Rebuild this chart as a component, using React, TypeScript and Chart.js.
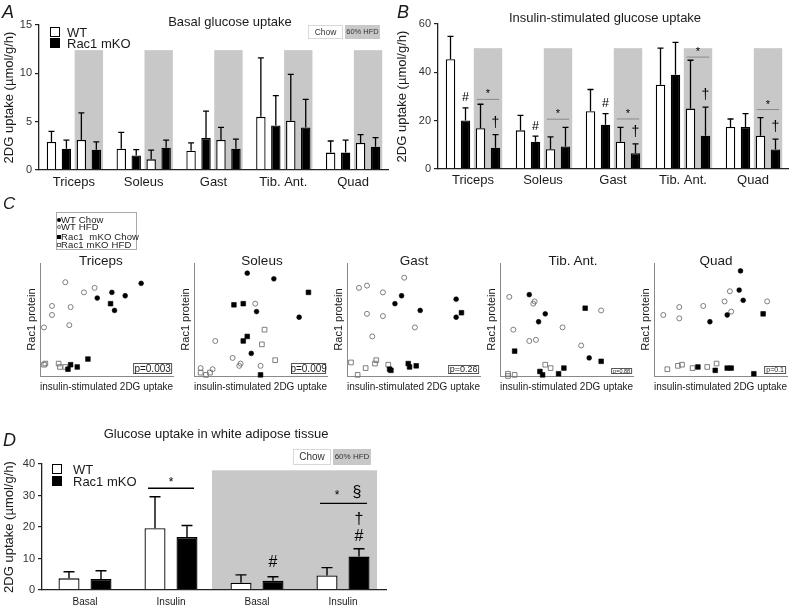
import React, { useEffect, useRef } from "react";
import { Chart, registerables } from "chart.js";

Chart.register(...registerables);

const FONT = "'Liberation Sans', Arial, Helvetica, sans-serif";
const SHADE = "#c8c8c8";
const INK = "#1a1a1a";
Chart.defaults.font.family = FONT;
Chart.defaults.color = INK;

// ---------------- Panel A : basal glucose uptake ----------------
const muscles = ["Triceps", "Soleus", "Gast", "Tib. Ant.", "Quad"];
const basalWtChow = [2.9, 2.2, 2.0, 5.5, 1.8];
const basalWtChowErr = [1.1, 1.7, 0.8, 6.1, 1.2];
const basalKoChow = [2.2, 1.5, 3.3, 4.6, 1.8];
const basalKoChowErr = [0.9, 0.6, 2.8, 3.1, 1.3];
const basalWtHfd = [3.1, 1.1, 3.1, 5.1, 2.8];
const basalWtHfdErr = [2.8, 0.95, 1.3, 4.8, 0.85];
const basalKoHfd = [2.1, 2.3, 2.2, 4.4, 2.4];
const basalKoHfdErr = [0.8, 0.8, 1.0, 2.9, 0.95];

// ---------------- Panel B : insulin-stimulated glucose uptake ----------------
const insWtChow = [45.4, 16.0, 23.9, 34.9, 17.4];
const insWtChowErr = [9.5, 6.2, 9.0, 15.1, 3.3];
const insKoChow = [20.1, 11.3, 18.3, 39.0, 17.4];
const insKoChowErr = [5.2, 2.3, 4.6, 13.4, 5.5];
const insWtHfd = [16.9, 8.2, 11.3, 25.0, 13.8];
const insWtHfdErr = [9.9, 5.1, 5.9, 20.0, 7.5];
const insKoHfd = [8.8, 9.3, 6.5, 13.8, 8.1];
const insKoHfdErr = [5.4, 7.9, 3.9, 11.8, 4.3];
const insStarLine = [28.8, 20.6, 20.7, 46.3, 24.6];
const insHashKoChow = [true, true, true, false, false];
const insDaggerKoHfd = [true, false, true, true, true];

// ---------------- Panel C : Rac1 protein vs insulin-stimulated 2DG uptake ----------------
const tricepsWtChow = [[43, 69], [54, 74], [56, 58], [64, 71], [76, 82]];
const tricepsWtHfd = [[19, 83], [41, 78], [33, 74], [9, 62], [23, 61], [9, 54], [3, 43], [22, 45]];
const tricepsKoChow = [[53, 64], [36, 15], [28, 8], [23, 10], [21, 6]];
const tricepsKoHfd = [[3, 10], [4, 11], [14, 11], [15, 8], [19, 8]];

const soleusWtChow = [[40, 91], [60, 86], [47, 57], [79, 52], [43, 20]];
const soleusWtHfd = [[46, 64], [16, 31], [29, 16], [35, 11], [34, 9], [50, 9], [5, 7], [14, 6]];
const soleusKoChow = [[30, 63], [37, 64], [86, 74], [37, 31], [40, 35], [50, 1]];
const soleusKoHfd = [[53, 41], [51, 28], [61, 14], [5, 3], [9, 1], [12, 3]];

const gastWtChow = [[36, 64], [41, 71], [55, 58], [82, 68], [82, 52]];
const gastWtHfd = [[43, 87], [9, 78], [15, 80], [27, 74], [15, 55], [27, 53], [51, 43], [19, 35]];
const gastKoChow = [[86, 56], [32, 6], [33, 5], [46, 11], [47, 8], [52, 9]];
const gastKoHfd = [[3, 12], [8, 1], [14, 7], [21, 11], [22, 14], [31, 10]];

const tibWtChow = [[22, 72], [34, 55], [29, 48], [67, 16]];
const tibWtHfd = [[7, 70], [26, 66], [25, 64], [10, 41], [22, 31], [27, 32], [47, 43], [61, 27], [76, 58]];
const tibKoChow = [[64, 60], [11, 22], [76, 13], [30, 4], [32, 1], [48, 7], [44, 2]];
const tibKoHfd = [[6, 2], [6, 0], [11, 1], [34, 10], [38, 7]];

const quadWtChow = [[65, 93], [64, 76], [67, 67], [42, 48], [55, 54]];
const quadWtHfd = [[7, 54], [19, 61], [19, 51], [37, 62], [53, 66], [57, 75], [58, 57], [85, 66]];
const quadKoChow = [[82, 55], [33, 8], [46, 5], [55, 7], [58, 7], [75, 2]];
const quadKoHfd = [[10, 6], [18, 9], [21, 10], [29, 7], [40, 8], [47, 11]];

const pValues = ["p=0.003", "p=0.009", "p=0.26", "p=0.88", "p=0.1"];

// ---------------- Panel D : white adipose tissue ----------------
const watLabels = ["Basal", "Insulin", "Basal", "Insulin"];
const watWt = [3.7, 19.6, 2.3, 4.6];
const watWtErr = [2.1, 10.0, 2.5, 2.5];
const watKo = [3.5, 16.8, 2.9, 10.6];
const watKoErr = [2.6, 3.7, 1.3, 2.5];
const watStarChow = 32.3;
const watStarHfd = 27.5;

// ---------------- helpers ----------------
function txt(ctx: any, s: string, x: number, y: number, size: number, color = "#000") {
  ctx.save();
  ctx.font = `${size}px ${FONT}`;
  ctx.fillStyle = color;
  ctx.textAlign = "center";
  ctx.textBaseline = "middle";
  ctx.fillText(s, x, y);
  ctx.restore();
}

function drawErrors(chart: any, errs: number[][], cap: number, lw: number) {
  const ctx = chart.ctx;
  const y = chart.scales.y;
  ctx.save();
  ctx.strokeStyle = "#000";
  ctx.lineWidth = lw;
  chart.data.datasets.forEach((ds: any, d: number) => {
    const meta = chart.getDatasetMeta(d);
    meta.data.forEach((el: any, j: number) => {
      const top = y.getPixelForValue(ds.data[j] + errs[d][j]);
      ctx.beginPath();
      ctx.moveTo(el.x, el.y);
      ctx.lineTo(el.x, top);
      ctx.moveTo(el.x - cap, top);
      ctx.lineTo(el.x + cap, top);
      ctx.stroke();
    });
  });
  ctx.restore();
}

function shadeHfdPairs(chart: any, topValue: number) {
  const ctx = chart.ctx;
  const y = chart.scales.y;
  const m2 = chart.getDatasetMeta(2);
  const m3 = chart.getDatasetMeta(3);
  const top = y.getPixelForValue(topValue);
  const bottom = y.getPixelForValue(0);
  ctx.save();
  ctx.fillStyle = SHADE;
  m2.data.forEach((a: any, j: number) => {
    const b = m3.data[j];
    const l = a.x - a.width / 2 - 2;
    const r = b.x + b.width / 2 + 2;
    ctx.fillRect(l, top, r - l, bottom - top);
  });
  ctx.restore();
}

function barConfig(o: any) {
  return {
    type: "bar",
    data: {
      labels: o.labels,
      datasets: o.series.map((s: any) => ({
        data: s.values,
        backgroundColor: s.color,
        borderColor: "#000",
        borderWidth: 1.3,
        categoryPercentage: o.catPct,
        barPercentage: o.barPct,
      })),
    },
    options: {
      responsive: false,
      animation: false,
      events: [],
      layout: { padding: { left: 0, right: o.padRight, top: o.padTop, bottom: 0 } },
      plugins: { legend: { display: false }, tooltip: { enabled: false }, title: { display: false } },
      scales: {
        x: {
          type: "category",
          offset: true,
          grid: { display: false, drawTicks: false, z: 1 },
          border: { display: true, color: "#222", width: 1.3, z: 1 },
          ticks: { font: { size: o.xFont }, color: INK, padding: o.xPad, maxRotation: 0, autoSkip: false },
          afterFit: (s: any) => { s.height = o.xHeight; },
        },
        y: {
          min: 0,
          max: o.yMax,
          ticks: { stepSize: o.yStep, font: { size: 11 }, color: "#333", padding: 3 },
          grid: { display: true, drawOnChartArea: false, drawTicks: true, tickLength: 4, color: "#222", lineWidth: 1.2, z: 1 },
          border: { display: true, color: "#222", width: 1.3, z: 1 },
          title: { display: true, text: "2DG uptake (µmol/g/h)", font: { size: 13 }, color: INK, padding: { top: o.titlePad, bottom: 0 } },
          afterFit: (s: any) => { s.width = o.yWidth; },
        },
      },
    },
    plugins: [
      {
        id: "extras",
        beforeDatasetsDraw(chart: any) { if (o.before) o.before(chart); },
        afterDatasetsDraw(chart: any) {
          drawErrors(chart, o.errors, o.cap, o.errLw);
          if (o.after) o.after(chart);
        },
      },
    ],
  };
}

function scatterConfig(groups: number[][][], p: { text: string; w: number; h: number; size: number }) {
  const pts = (a: number[][]) => a.map(([x, y]) => ({ x, y }));
  return {
    type: "scatter",
    data: {
      datasets: [
        { data: pts(groups[0]), pointStyle: "circle", pointRadius: 2.4, backgroundColor: "#000", borderColor: "#000", borderWidth: 0.6, clip: false },
        { data: pts(groups[1]), pointStyle: "circle", pointRadius: 2.5, backgroundColor: "rgba(255,255,255,0)", borderColor: "#707070", borderWidth: 0.9, clip: false },
        { data: pts(groups[2]), pointStyle: "rect", pointRadius: 3.3, backgroundColor: "#000", borderColor: "#000", borderWidth: 0.6, clip: false },
        { data: pts(groups[3]), pointStyle: "rect", pointRadius: 3.3, backgroundColor: "rgba(255,255,255,0)", borderColor: "#707070", borderWidth: 0.9, clip: false },
      ],
    },
    options: {
      responsive: false,
      animation: false,
      events: [],
      layout: { padding: { left: 0, right: 1, top: 23, bottom: 0 } },
      plugins: { legend: { display: false }, tooltip: { enabled: false } },
      scales: {
        x: {
          type: "linear", min: 0, max: 100,
          ticks: { display: false },
          grid: { display: false, drawTicks: false },
          border: { display: true, color: "#8a8a8a", width: 1 },
          title: { display: true, text: "insulin-stimulated 2DG uptake", font: { size: 11 }, color: INK, padding: { top: 0, bottom: 6.4 } },
          afterFit: (s: any) => { s.height = 24; },
        },
        y: {
          type: "linear", min: 0, max: 100,
          ticks: { display: false },
          grid: { display: false, drawTicks: false },
          border: { display: true, color: "#8a8a8a", width: 1 },
          title: { display: true, text: "Rac1 protein", font: { size: 11 }, color: INK, padding: { top: 1.4, bottom: 0 } },
          afterFit: (s: any) => { s.width = 16; },
        },
      },
    },
    plugins: [
      {
        id: "pbox",
        afterDraw(chart: any) {
          const ctx = chart.ctx;
          const a = chart.chartArea;
          const r = a.right - 1;
          const b = a.bottom - 2;
          ctx.save();
          ctx.fillStyle = "#fff";
          ctx.fillRect(r - p.w, b - p.h, p.w, p.h);
          ctx.strokeStyle = "#555";
          ctx.lineWidth = 1;
          ctx.strokeRect(r - p.w + 0.5, b - p.h + 0.5, p.w - 1, p.h - 1);
          ctx.restore();
          txt(ctx, p.text, r - p.w / 2, b - p.h / 2 + 0.5, p.size, "#222");
        },
      },
    ],
  };
}

function makeA() {
  return barConfig({
    labels: muscles,
    series: [
      { values: basalWtChow, color: "#fff" },
      { values: basalKoChow, color: "#000" },
      { values: basalWtHfd, color: "#fff" },
      { values: basalKoHfd, color: "#000" },
    ],
    errors: [basalWtChowErr, basalKoChowErr, basalWtHfdErr, basalKoHfdErr],
    yMax: 15, yStep: 5, padTop: 25, padRight: 4, yWidth: 39, xHeight: 25, titlePad: 1.7,
    xPad: 4.2, xFont: 13, catPct: 0.857, barPct: 0.63, cap: 3, errLw: 1.3,
    before: (c: any) => shadeHfdPairs(c, 12.4),
  });
}

function makeB() {
  return barConfig({
    labels: muscles,
    series: [
      { values: insWtChow, color: "#fff" },
      { values: insKoChow, color: "#000" },
      { values: insWtHfd, color: "#fff" },
      { values: insKoHfd, color: "#000" },
    ],
    errors: [insWtChowErr, insKoChowErr, insWtHfdErr, insKoHfdErr],
    yMax: 60, yStep: 20, padTop: 24, padRight: 4, yWidth: 46, xHeight: 26, titlePad: 2.7,
    xPad: 4, xFont: 13, catPct: 0.857, barPct: 0.63, cap: 3, errLw: 1.3,
    before: (c: any) => shadeHfdPairs(c, 50),
    after: (chart: any) => {
      const ctx = chart.ctx;
      const y = chart.scales.y;
      const m1 = chart.getDatasetMeta(1);
      const m2 = chart.getDatasetMeta(2);
      const m3 = chart.getDatasetMeta(3);
      muscles.forEach((_, j) => {
        const a = m2.data[j];
        const b = m3.data[j];
        const ly = y.getPixelForValue(insStarLine[j]);
        ctx.save();
        ctx.strokeStyle = "#8a8a8a";
        ctx.lineWidth = 1;
        ctx.beginPath();
        ctx.moveTo(a.x - a.width / 2 + 1, ly);
        ctx.lineTo(b.x + b.width / 2 - 1, ly);
        ctx.stroke();
        ctx.restore();
        txt(ctx, "*", (a.x + b.x) / 2, ly - 5, 11);
        if (insHashKoChow[j]) {
          const e = m1.data[j];
          txt(ctx, "#", e.x, y.getPixelForValue(insKoChow[j] + insKoChowErr[j]) - 10, 12.5);
        }
        if (insDaggerKoHfd[j]) {
          txt(ctx, "†", b.x, y.getPixelForValue(insKoHfd[j] + insKoHfdErr[j]) - 12, 14);
        }
      });
    },
  });
}

function makeD() {
  return barConfig({
    labels: watLabels,
    series: [
      { values: watWt, color: "#fff" },
      { values: watKo, color: "#000" },
    ],
    errors: [watWtErr, watKoErr],
    yMax: 40, yStep: 10, padTop: 44, padRight: 6, yWidth: 42, xHeight: 19, titlePad: 1.7,
    xPad: 6, xFont: 10, catPct: 0.744, barPct: 0.656, cap: 5.5, errLw: 1.4,
    before: (chart: any) => {
      const ctx = chart.ctx;
      const x = chart.scales.x;
      const y = chart.scales.y;
      const l = (x.getPixelForValue(1) + x.getPixelForValue(2)) / 2 - 2;
      const r = x.getPixelForValue(3) + 34;
      const t = y.getPixelForValue(38);
      ctx.save();
      ctx.fillStyle = SHADE;
      ctx.fillRect(l, t, r - l, y.getPixelForValue(0) - t);
      ctx.restore();
    },
    after: (chart: any) => {
      const ctx = chart.ctx;
      const x = chart.scales.x;
      const y = chart.scales.y;
      const ko = chart.getDatasetMeta(1);
      const c1 = x.getPixelForValue(1);
      const c3 = x.getPixelForValue(3);
      const l1 = y.getPixelForValue(watStarChow);
      const l3 = y.getPixelForValue(watStarHfd);
      ctx.save();
      ctx.strokeStyle = "#000";
      ctx.lineWidth = 1.3;
      ctx.beginPath();
      ctx.moveTo(c1 - 23, l1);
      ctx.lineTo(c1 + 23, l1);
      ctx.moveTo(c3 - 23, l3);
      ctx.lineTo(c3 + 24, l3);
      ctx.stroke();
      ctx.restore();
      txt(ctx, "*", c1, l1 - 6, 12);
      txt(ctx, "*", c3 - 6, l3 - 8, 12);
      txt(ctx, "§", c3 + 14, l3 - 11, 16);
      const eIns = ko.data[3];
      const insTop = y.getPixelForValue(watKo[3] + watKoErr[3]);
      txt(ctx, "#", eIns.x, insTop - 12, 16);
      txt(ctx, "†", eIns.x, insTop - 29, 16);
      const eBas = ko.data[2];
      txt(ctx, "#", eBas.x, y.getPixelForValue(watKo[2] + watKoErr[2]) - 14, 16);
    },
  });
}

const scatterPanels = [
  { x0: 40, groups: [tricepsWtChow, tricepsWtHfd, tricepsKoChow, tricepsKoHfd], title: "Triceps", tx: 101, p: { w: 39, h: 11, size: 10 } },
  { x0: 194, groups: [soleusWtChow, soleusWtHfd, soleusKoChow, soleusKoHfd], title: "Soleus", tx: 262, p: { w: 35, h: 11, size: 10 } },
  { x0: 347, groups: [gastWtChow, gastWtHfd, gastKoChow, gastKoHfd], title: "Gast", tx: 414, p: { w: 31, h: 9, size: 9 } },
  { x0: 500, groups: [tibWtChow, tibWtHfd, tibKoChow, tibKoHfd], title: "Tib. Ant.", tx: 573, p: { w: 21, h: 6, size: 5.5 } },
  { x0: 654, groups: [quadWtChow, quadWtHfd, quadKoChow, quadKoHfd], title: "Quad", tx: 716, p: { w: 22, h: 8, size: 7 } },
];

function ChartCanvas({ left, top, width, height, make }: any) {
  const ref = useRef<HTMLCanvasElement>(null);
  useEffect(() => {
    const chart = new Chart(ref.current as HTMLCanvasElement, make());
    return () => chart.destroy();
  }, []);
  return (
    <canvas
      ref={ref}
      width={width}
      height={height}
      style={{ position: "absolute", left, top, width, height }}
    />
  );
}

function Txt({ x, y, size, children, center, italic, color, spacing }: any) {
  const style: any = {
    position: "absolute",
    top: y,
    left: x,
    fontSize: size,
    lineHeight: 1,
    whiteSpace: "pre",
    fontStyle: italic ? "italic" : "normal",
    color: color || INK,
    letterSpacing: spacing || 0,
  };
  if (center) style.transform = "translateX(-50%)";
  return <div style={style}>{children}</div>;
}

function Box({ x, y, w, h, bg, border, size, children }: any) {
  return (
    <div
      style={{
        position: "absolute", left: x, top: y, width: w, height: h, boxSizing: "border-box",
        background: bg, border: border ? `1px solid ${border}` : "none",
        display: "flex", alignItems: "center", justifyContent: "center",
        fontSize: size, lineHeight: 1, color: "#333", whiteSpace: "nowrap",
      }}
    >
      {children}
    </div>
  );
}

function Swatch({ x, y, fill }: any) {
  return (
    <div
      style={{
        position: "absolute", left: x, top: y, width: 10, height: 10, boxSizing: "border-box",
        background: fill, border: "1.3px solid #000",
      }}
    />
  );
}

function Marker({ x, y, kind }: any) {
  const round = kind === "fc" || kind === "oc";
  const filled = kind === "fc" || kind === "fs";
  return (
    <div
      style={{
        position: "absolute", left: x, top: y, width: 4, height: 4, boxSizing: "border-box",
        borderRadius: round ? "50%" : 0,
        background: filled ? "#000" : "#fff",
        border: filled ? "none" : "1px solid #666",
      }}
    />
  );
}

export default function App() {
  return (
    <div
      style={{
        position: "absolute", left: 0, top: 0, width: 792, height: 609, overflow: "hidden",
        background: "#fff", fontFamily: FONT, color: INK,
      }}
    >
      <ChartCanvas left={0} top={0} width={392} height={195} make={makeA} />
      <ChartCanvas left={392} top={0} width={400} height={195} make={makeB} />
      {scatterPanels.map((s, i) => (
        <ChartCanvas
          key={i}
          left={s.x0 - 16}
          top={240}
          width={154}
          height={160}
          make={() => scatterConfig(s.groups, { text: pValues[i], ...s.p })}
        />
      ))}
      <ChartCanvas left={0} top={420} width={392} height={189} make={makeD} />

      {/* panel letters */}
      <Txt x={2} y={3} size={18} italic>A</Txt>
      <Txt x={397} y={3} size={18} italic>B</Txt>
      <Txt x={3} y={195} size={17} italic>C</Txt>
      <Txt x={3} y={430.5} size={18} italic>D</Txt>

      {/* panel A extras */}
      <Txt x={230} y={14.6} size={13} center>Basal glucose uptake</Txt>
      <Swatch x={50} y={27} fill="#fff" />
      <Swatch x={50} y={38} fill="#000" />
      <Txt x={67} y={25.6} size={13}>WT</Txt>
      <Txt x={67} y={36.6} size={13}>Rac1 mKO</Txt>
      <Box x={308} y={25} w={35} h={14} bg="#fff" border="#d8d8d8" size={8.5}>Chow</Box>
      <Box x={345} y={25} w={35} h={14} bg={SHADE} size={7.5}>60% HFD</Box>

      {/* panel B extras */}
      <Txt x={605} y={10.6} size={13} center>Insulin-stimulated glucose uptake</Txt>

      {/* panel C extras */}
      <div style={{ position: "absolute", left: 56, top: 212, width: 81, height: 38, boxSizing: "border-box", border: "1px solid #aaa" }} />
      <Marker x={57} y={217.5} kind="fc" />
      <Txt x={61} y={214.8} size={9.5} spacing={0.15}>WT Chow</Txt>
      <Marker x={57} y={225} kind="oc" />
      <Txt x={61} y={222.3} size={9.5} spacing={0.15}>WT HFD</Txt>
      <Marker x={57} y={235} kind="fs" />
      <Txt x={61} y={232.3} size={9.5} spacing={0.15}>Rac1  mKO Chow</Txt>
      <Marker x={57} y={243} kind="os" />
      <Txt x={61} y={240.3} size={9.5} spacing={0.15}>Rac1 mKO HFD</Txt>
      {scatterPanels.map((s, i) => (
        <Txt key={"t" + i} x={s.tx} y={254.4} size={13.5} center>{s.title}</Txt>
      ))}

      {/* panel D extras */}
      <Txt x={216} y={426.6} size={13} center>Glucose uptake in white adipose tissue</Txt>
      <Swatch x={52} y={464} fill="#fff" />
      <Swatch x={52} y={476} fill="#000" />
      <Txt x={73} y={462.6} size={13}>WT</Txt>
      <Txt x={73} y={474.6} size={13}>Rac1 mKO</Txt>
      <Box x={293} y={449} w={38} h={16} bg="#fff" border="#d8d8d8" size={10}>Chow</Box>
      <Box x={333} y={449} w={38} h={16} bg={SHADE} size={8}>60% HFD</Box>
    </div>
  );
}
